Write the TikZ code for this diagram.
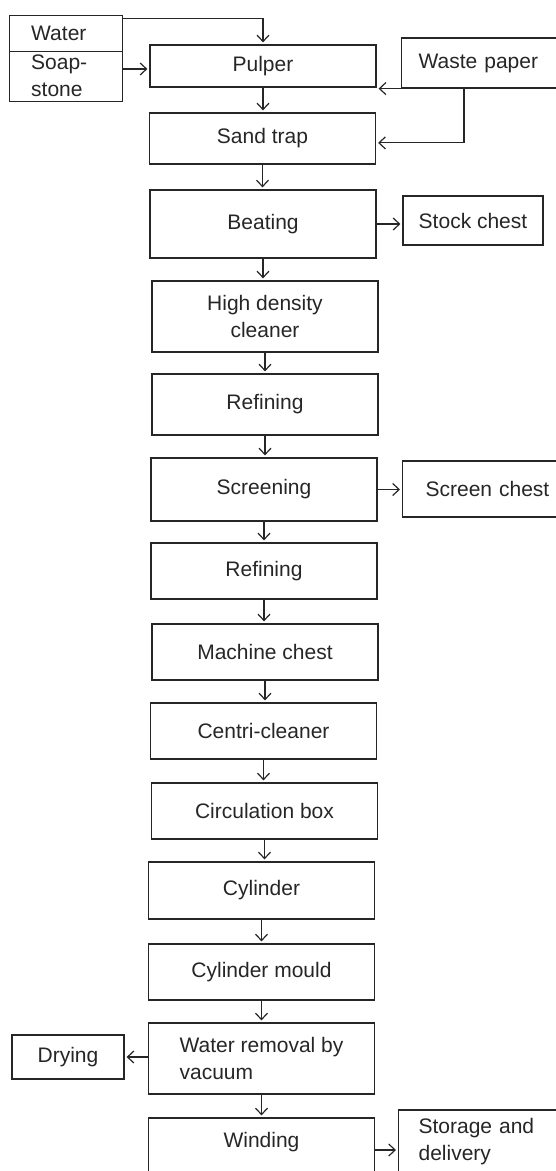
\documentclass[tikz,border=0pt]{standalone}
\usepackage{fontspec}
\setmainfont{Liberation Sans}
\usepackage{tikz}
\usetikzlibrary{arrows.meta}
\definecolor{InkGray}{RGB}{38, 38, 38}

\begin{document}
\begin{tikzpicture}[x=0.5pt, y=-0.5pt, font=\fontsize{10.5}{13.5}\selectfont, text=InkGray, blk/.style={draw=InkGray, line width=0.6pt, minimum width=113pt, inner sep=2pt, align=center}, side/.style={draw=InkGray, line width=0.6pt, inner sep=2pt, align=left}, ar/.style={-{Straight Barb[length=3.2pt, width=6pt]}, InkGray, line width=0.6pt, shorten >=1pt}]
\useasboundingbox (0,0) rectangle (556,1171);
\clip (0,0) rectangle (556,1171);
% main line
\node[blk, minimum height=21pt] (m0) at (263,66) {Pulper};
\node[blk, minimum height=25.5pt] (m1) at (262.5,138.5) {Sand trap};
\node[blk, minimum height=34pt] (m2) at (263,224) {Beating};
\node[blk, minimum height=35.5pt] (m3) at (265,316.5) {High density\\cleaner};
\node[blk, minimum height=30.5pt] (m4) at (265,404.5) {Refining};
\node[blk, minimum height=31.5pt] (m5) at (264,489.5) {Screening};
\node[blk, minimum height=28pt] (m6) at (264,571) {Refining};
\node[blk, minimum height=28pt] (m7) at (265,652) {Machine chest};
\node[blk, minimum height=28pt] (m8) at (263.5,731) {Centri-cleaner};
\node[blk, minimum height=28pt] (m9) at (264.5,811) {Circulation box};
\node[blk, minimum height=28.5pt] (m10) at (261.5,890.5) {Cylinder};
\node[blk, minimum height=28pt] (m11) at (261.5,972) {Cylinder mould};
\node[blk, minimum height=35.5pt, align=left] (m12) at (261.5,1058.5) {Water removal by\\vacuum};
\node[blk, minimum height=32pt, text depth=10pt] (m13) at (261.5,1150) {Winding};
% side boxes
\node[side, minimum height=18pt, text width=35pt, inner xsep=10.7pt] (water) at (66.2,33.7) {Water};
\node[side, minimum height=24.5pt, text width=35pt, inner xsep=10.7pt] (soap) at (66.2,76.2) {Soap-\\stone};
\node[side, anchor=west, minimum height=25pt, text width=70pt, inner xsep=8.5pt] (waste) at (401,63) {Waste paper};
\node[side, align=center, minimum width=70pt, minimum height=24.5pt] (stock) at (473,220.5) {Stock chest};
\node[side, anchor=west, minimum height=28pt, text width=70pt, inner xsep=11.5pt] (scrch) at (402,489) {Screen chest};
\node[side, align=center, minimum width=56pt, minimum height=22pt] (dry) at (68,1057) {Drying};
\node[side, anchor=west, minimum height=32pt, text width=70pt, inner xsep=10pt] (store) at (398,1142) {Storage and\\delivery};
% flow down
\draw[ar] (m0) -- (m0 |- m1.north); \draw[ar] (m1) -- (m1 |- m2.north); \draw[ar] (m2) -- (m2 |- m3.north); \draw[ar] (m3) -- (m3 |- m4.north);
\draw[ar] (m4) -- (m4 |- m5.north); \draw[ar] (m5) -- (m5 |- m6.north); \draw[ar] (m6) -- (m6 |- m7.north); \draw[ar] (m7) -- (m7 |- m8.north);
\draw[ar] (m8) -- (m8 |- m9.north); \draw[ar] (m9) -- (m9 |- m10.north); \draw[ar] (m10) -- (m10 |- m11.north); \draw[ar] (m11) -- (m11 |- m12.north); \draw[ar] (m12) -- (m12 |- m13.north);
% inputs and outputs
\draw[ar] ([yshift=-1.8pt]water.north east) -| (m0);
\draw[ar] ([yshift=-1.5pt]m0.west -| soap.east) -- ([yshift=-1.5pt]m0.west);
\draw[ar] (waste.south west) -- (waste.south west -| m0.east);
\draw[ar] ([xshift=31.5pt]waste.south west) |- ([yshift=-2.2pt]m1.east);
\draw[ar] (m2.east) -- (m2 -| stock.west);
\draw[ar] (m5.east) -- (m5 -| scrch.west);
\draw[ar] (dry -| m12.west) -- (dry);
\draw[ar] (m13.east) -- (m13 -| store.west);
\end{tikzpicture}
\end{document}
